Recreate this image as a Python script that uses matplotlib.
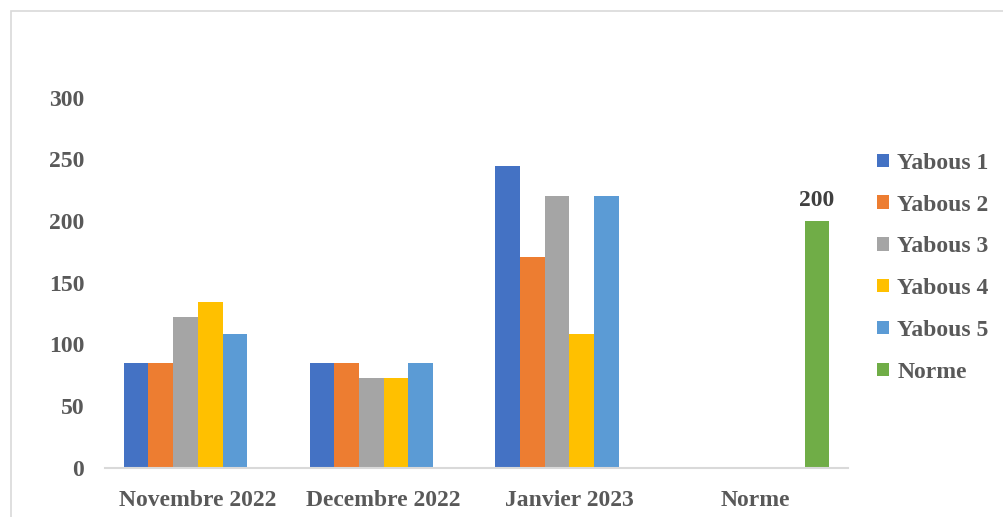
import numpy as np
import matplotlib
matplotlib.use("Agg")
import matplotlib.pyplot as plt
from matplotlib.patches import Rectangle

# data
categories = ["Novembre 2022", "Decembre 2022", "Janvier 2023", "Norme"]
series_names = ["Yabous 1", "Yabous 2", "Yabous 3", "Yabous 4", "Yabous 5", "Norme"]
yabous1 = [85, 85, 245, 0]
yabous2 = [85, 85, 171, 0]
yabous3 = [122, 73, 220, 0]
yabous4 = [134, 73, 108, 0]
yabous5 = [108, 85, 220, 0]
norme = [0, 0, 0, 200]
colors = ["#4472C4", "#ED7D31", "#A5A5A5", "#FFC000", "#5B9BD5", "#70AD47"]
y_ticks = [0, 50, 100, 150, 200, 250, 300]

all_series = [yabous1, yabous2, yabous3, yabous4, yabous5, norme]

plt.rcParams['font.family'] = ['Liberation Serif', 'DejaVu Serif']

fig = plt.figure(figsize=(10.04, 5.17), dpi=100)
ax = fig.add_axes([0.1046, 0.0957, 0.74, 0.715])

# thin frame around the chart area
fig.patches.append(Rectangle((11 / 1004, -0.1), 1.2, 1 - 11 / 517 + 0.1,
                             transform=fig.transFigure, fill=False,
                             edgecolor="#d9d9d9", linewidth=1.2))

x = np.arange(len(categories))
w = 0.133
handles = []
for i, (vals, name, col) in enumerate(zip(all_series, series_names, colors)):
    b = ax.bar(x + (i - 2.5) * w, vals, width=w, color=col, label=name,
               linewidth=0)
    handles.append(b)

# data label on the norme bar
ax.text(x[3] + 2.5 * w, norme[3] + 8, str(norme[3]), ha="center", va="bottom",
        fontsize=17, fontweight="bold", color="#404040")

ax.set_xlim(-0.5, 3.5)
ax.set_ylim(0, 300)
ax.set_yticks(y_ticks)
ax.set_xticks(x)
ax.set_xticklabels(categories)
for s in ["top", "right", "left"]:
    ax.spines[s].set_visible(False)
ax.spines["bottom"].set_color("#d9d9d9")
ax.spines["bottom"].set_linewidth(1.5)
ax.tick_params(axis="both", length=0, labelsize=17, labelcolor="#595959")
ax.tick_params(axis="y", pad=15)
ax.tick_params(axis="x", pad=16)
for lab in ax.get_xticklabels() + ax.get_yticklabels():
    lab.set_fontweight("bold")

leg = fig.legend(handles=handles, loc="upper left",
                 bbox_to_anchor=(865 / 1004, 1 - 141 / 517),
                 frameon=False, fontsize=17, labelspacing=0.88,
                 handlelength=0.5, handleheight=0.5, handletextpad=0.36,
                 borderpad=0)
for t in leg.get_texts():
    t.set_fontweight("bold")
    t.set_color("#595959")

plt.savefig("out.png", dpi=100)
